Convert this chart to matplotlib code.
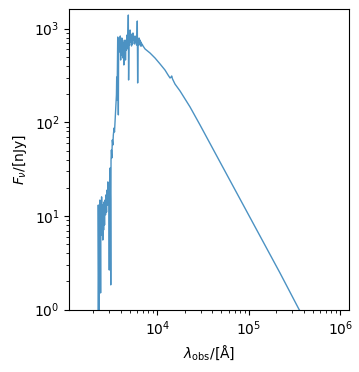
import matplotlib
matplotlib.use("Agg")
import matplotlib.pyplot as plt

wavelength = [2138, 2249, 2264, 2280, 2301, 2317, 2333, 2355, 2377, 2399,
              2421, 2438, 2460, 2489, 2512, 2535, 2564, 2588, 2612, 2649,
              2679, 2716, 2748, 2786, 2818, 2858, 2877, 2911, 2951, 2985,
              3013, 3041, 3069, 3097, 3119, 3148, 3184, 3221, 3266, 3304,
              3365, 3404, 3451, 3491, 3540, 3573, 3597, 3631, 3664, 3690,
              3715, 3750, 3776, 3811, 3855, 3890, 3936, 3972, 4009, 4055,
              4093, 4130, 4178, 4217, 4266, 4305, 4345, 4395, 4436, 4487,
              4550, 4603, 4667, 4721, 4786, 4819, 4853, 4909, 4966, 5035,
              5093, 5164, 5224, 5297, 5358, 5420, 5495, 5559, 5636, 5702,
              5781, 5848, 5929, 5998, 6039, 6095, 6152, 6237, 6310, 6383,
              6471, 6546, 6637, 6714, 6808, 6982, 7345, 8318, 9441, 10715,
              12134, 13092, 13772, 14125, 14355, 14656, 15031, 15596, 17701, 20090,
              22751, 25823, 29309, 34914, 48417, 80168, 132434, 219280, 347536, 466659,
              968278]
flux = [0.29, 0.61, 13.1, 4.34, 0.78, 10.3, 5.54, 14.8, 7.09, 1.51,
        13.1, 6.27, 16.0, 8.02, 13.1, 5.54, 11.6, 7.09, 14.1, 8.02,
        14.8, 10.3, 16.8, 11.0, 18.9, 13.1, 23.1, 14.8, 21.4, 2.65,
        24.2, 32.5, 14.8, 1.84, 39.6, 50.6, 41.6, 64.7, 57.2, 73.1,
        86.9, 78.8, 101, 120, 153, 196, 304, 173, 462, 813,
        522, 120, 755, 591, 794, 563, 834, 462, 719, 522,
        794, 621, 755, 485, 668, 409, 719, 563, 755, 462,
        719, 591, 855, 621, 920, 1396, 283, 794, 668, 966,
        719, 876, 652, 834, 685, 898, 755, 794, 685, 834,
        719, 794, 668, 834, 1205, 263, 755, 668, 794, 685,
        755, 652, 719, 652, 685, 652, 606, 549, 485, 419,
        361, 320, 297, 304, 312, 290, 276, 256, 216, 177,
        146, 117, 93.5, 68.0, 37.7, 15.2, 6.12, 2.46, 1.04, 0.61,
        0.16]

fig = plt.figure(figsize=(3.59, 3.72), dpi=100)
ax = fig.add_axes([0.193, 0.1675, 0.780, 0.8075])
ax.plot(wavelength, flux, color="tab:blue", alpha=0.8, lw=1.0)
ax.set_xscale("log")
ax.set_yscale("log")
ax.set_xlim(1091, 1.253e6)
ax.set_ylim(1, 1607)
ax.set_xlabel(r"$\lambda_{\rm obs}/[\mathrm{\AA}]$")
ax.set_ylabel(r"$F_{\nu}/[\mathrm{nJy}]$")
fig.savefig("out.png", dpi=100)
